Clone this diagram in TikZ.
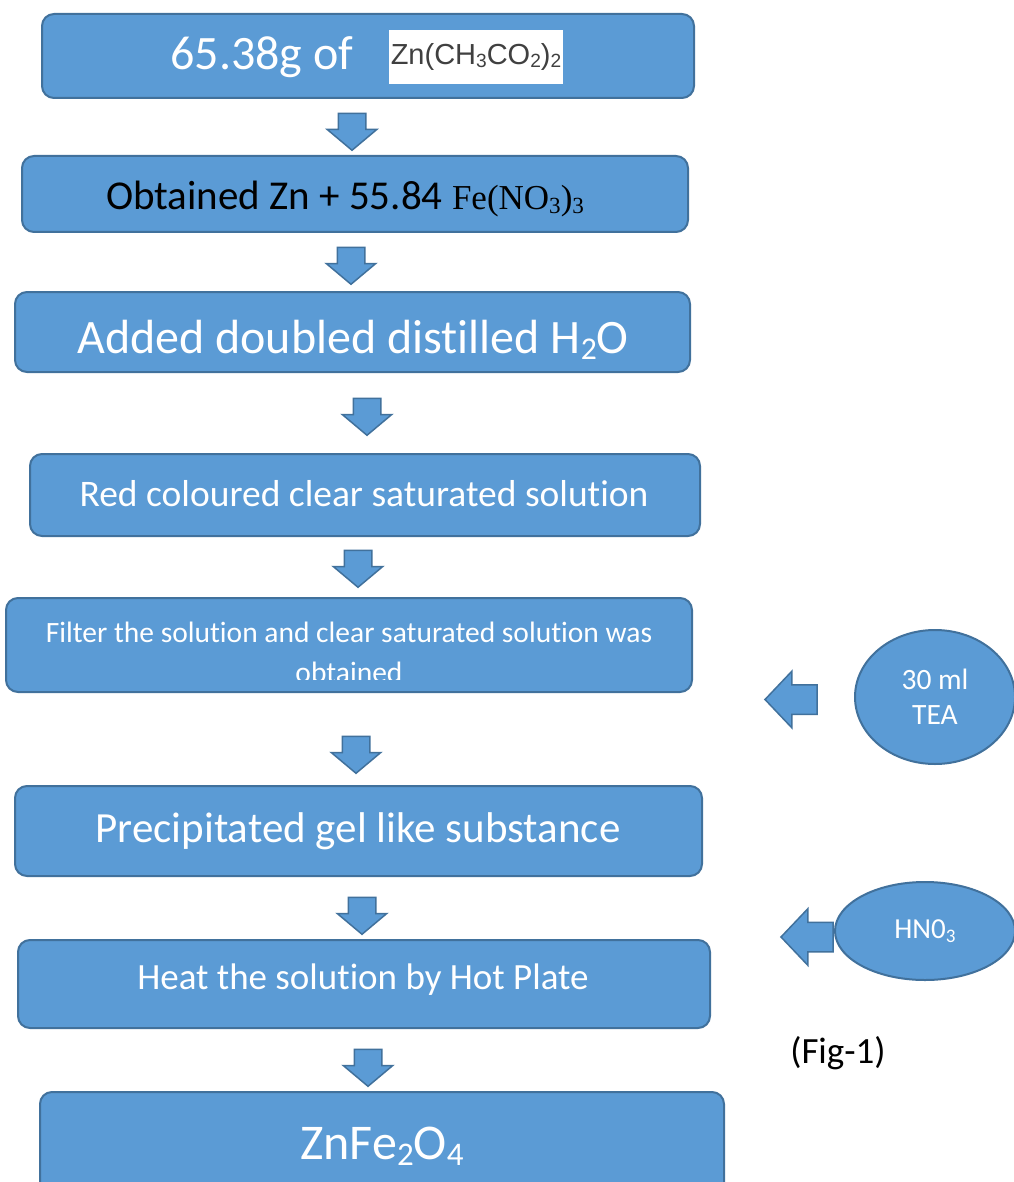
\documentclass[tikz,border=0pt]{standalone}
\usepackage{fontspec}
\setmainfont{Carlito}[Ligatures=NoCommon]
\newfontfamily\arialfont{Liberation Sans}
\newfontfamily\timesfont{Liberation Serif}
\usetikzlibrary{shapes.geometric,shapes.arrows}
\definecolor{boxfill}{HTML}{5B9BD5}
\definecolor{boxline}{HTML}{41719C}
\newcommand{\fs}[1]{\fontsize{#1}{1.2\dimexpr #1pt\relax}\selectfont}
\newcommand{\sub}[1]{\raisebox{-0.12em}{\scalebox{0.66}{#1}}}

\begin{document}
\begin{tikzpicture}[x=1pt, y=-1pt,
  box/.style={draw=boxline, fill=boxfill, line width=2pt, rounded corners=12pt, inner sep=0pt},
  txt/.style={text=white, inner sep=0pt},
  blob/.style={ellipse, draw=boxline, fill=boxfill, line width=2pt, inner sep=0pt, text=white, align=center},
  darrow/.style={single arrow, draw=boxline, fill=boxfill, line width=1.5pt, shape border rotate=270,
    minimum height=37pt, minimum width=48pt, inner xsep=13pt, inner ysep=0pt,
    single arrow head extend=11pt, single arrow tip angle=100},
  larrow/.style={single arrow, draw=boxline, fill=boxfill, line width=1.5pt, shape border rotate=180,
    minimum height=52pt, minimum width=55pt, inner xsep=0pt, inner ysep=14pt,
    single arrow head extend=13.5pt, single arrow tip angle=93}]
  \useasboundingbox[fill=white] (0,0) rectangle (1013,1182);
  % main chain of steps
  \node[box, minimum width=652pt, minimum height=84pt] (zinc) at (368,56) {};
  \node[fill=white, text=black!75, inner xsep=2pt, minimum height=54pt, font=\arialfont\fs{29}] (znac) at (476,57) {Zn(CH\sub{3}CO\sub{2})\sub{2}};
  \node[txt, anchor=east, font=\fs{48}] (mass) at ([xshift=-35pt]znac.west) {65.38g of};
  \node[box, minimum width=666pt, minimum height=76pt] (mix) at (355,194) {};
  \node[txt, text=black, font=\fs{41}] (mixtxt) at (345,199) {Obtained Zn + 55.84 {\timesfont\fs{35}Fe(NO\sub{3})\sub{3}}};
  \node[box, minimum width=675pt, minimum height=80pt] (water) at (352.5,332) {};
  \node[txt, font=\fs{48}] (watertxt) at (353,340) {Added doubled distilled H\sub{2}O};
  \node[box, minimum width=670pt, minimum height=82pt] (red) at (365,495) {};
  \node[txt, font=\fs{37.5}] (redtxt) at (364,494) {Red coloured clear saturated solution};
  \node[box, minimum width=686pt, minimum height=94pt] (filt) at (349,645) {};
  \begin{scope}
    \clip (filt.north west) rectangle ([yshift=14pt]filt.south east);
    \node[txt, anchor=north, align=center, font=\fontsize{29.5}{40}\selectfont] (filttxt) at (349,622) {Filter the solution and clear saturated solution was\\obtained};
  \end{scope}
  \node[box, minimum width=687pt, minimum height=90pt] (gel) at (358.5,831) {};
  \node[txt, font=\fs{43}] (geltxt) at (358,831) {Precipitated gel like substance};
  \node[box, minimum width=692pt, minimum height=88pt] (heat) at (364,984) {};
  \node[txt, font=\fs{37}] (heattxt) at (363,980) {Heat the solution by Hot Plate};
  \node[box, minimum width=684pt, minimum height=110pt] (ferr) at (382,1147) {};
  \node[txt, font=\fs{50}] (ferrtxt) at (382,1146) {ZnFe\sub{2}O\sub{4}};
  % block arrows between steps
  \node[darrow] (d1) at (352,126) {};
  \node[darrow] (d2) at (351,260) {};
  \node[darrow] (d3) at (367,411) {};
  \node[darrow] (d4) at (358,563) {};
  \node[darrow] (d5) at (356,749) {};
  \node[darrow] (d6) at (362,910) {};
  \node[darrow] (d7) at (368,1062) {};
  % reagents added from the side
  \node[blob, minimum width=160pt, minimum height=134pt, font=\fs{29.5}] (tea) at (935,697) {30 ml\\TEA};
  \node[larrow] (l1) at (798,699.5) {};
  \node[blob, minimum width=180pt, minimum height=98pt, font=\fs{29}] (acid) at (925,931) {HN0\sub{3}};
  \node[larrow] (l2) at (814,937) {};
  \node[text=black, font=\fs{37}] (fig) at (838,1053) {(Fig-1)};
\end{tikzpicture}
\end{document}
